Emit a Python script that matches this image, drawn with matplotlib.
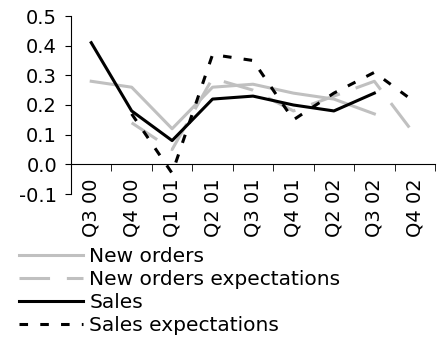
import numpy as np
import matplotlib
matplotlib.use("Agg")
import matplotlib.pyplot as plt
from matplotlib.ticker import FixedLocator, MultipleLocator

quarters = ["Q3 00", "Q4 00", "Q1 01", "Q2 01", "Q3 01", "Q4 01", "Q2 02", "Q3 02", "Q4 02"]
new_orders = [0.28, 0.26, 0.12, 0.26, 0.27, 0.24, 0.22, 0.17, np.nan]
new_orders_exp = [np.nan, 0.14, 0.05, 0.29, 0.25, 0.18, 0.23, 0.28, 0.10]
sales = [0.41, 0.18, 0.08, 0.22, 0.23, 0.20, 0.18, 0.24, np.nan]
sales_exp = [np.nan, 0.17, -0.03, 0.37, 0.35, 0.15, 0.24, 0.31, 0.21]

plt.rcParams["font.family"] = "DejaVu Sans"
plt.rcParams["font.size"] = 14

fig = plt.figure(figsize=(4.43, 3.40), dpi=100)
ax = fig.add_axes([71 / 443, 1 - 194 / 340, (435 - 71) / 443, (194 - 16) / 340])

x = np.arange(len(quarters))
gray = "#c0c0c0"
lw = 2.2
ax.plot(x, new_orders, color=gray, lw=lw, label="New orders")
ax.plot(x, new_orders_exp, color=gray, lw=lw, dashes=(10, 5.5), label="New orders expectations")
ax.plot(x, sales, color="black", lw=lw, label="Sales")
ax.plot(x, sales_exp, color="black", lw=lw, dashes=(2.8, 4), label="Sales expectations")

ax.set_xlim(-0.5, len(quarters) - 0.5)
ax.set_ylim(-0.1, 0.5)
ax.yaxis.set_major_locator(MultipleLocator(0.1))
ax.yaxis.set_major_formatter(plt.FuncFormatter(lambda v, p: "%.1f" % v))

ax.spines["top"].set_visible(False)
ax.spines["right"].set_visible(False)
ax.spines["bottom"].set_position(("data", 0))

ax.set_xticks(x)
ax.set_xticklabels(quarters, rotation=90)
ax.xaxis.set_minor_locator(FixedLocator(np.arange(-0.5, len(quarters), 1)))
ax.tick_params(axis="x", which="major", length=0, pad=10)
ax.tick_params(axis="x", which="minor", length=5, direction="out")
ax.tick_params(axis="y", length=4, direction="out", pad=6)

fig.legend(loc="upper left", bbox_to_anchor=(19 / 443, 1 - 247 / 340), frameon=False,
           prop={"size": 14.5}, handlelength=3.2, handletextpad=0.3, labelspacing=0.2,
           borderpad=0, borderaxespad=0)

fig.savefig("out.png", dpi=100)
